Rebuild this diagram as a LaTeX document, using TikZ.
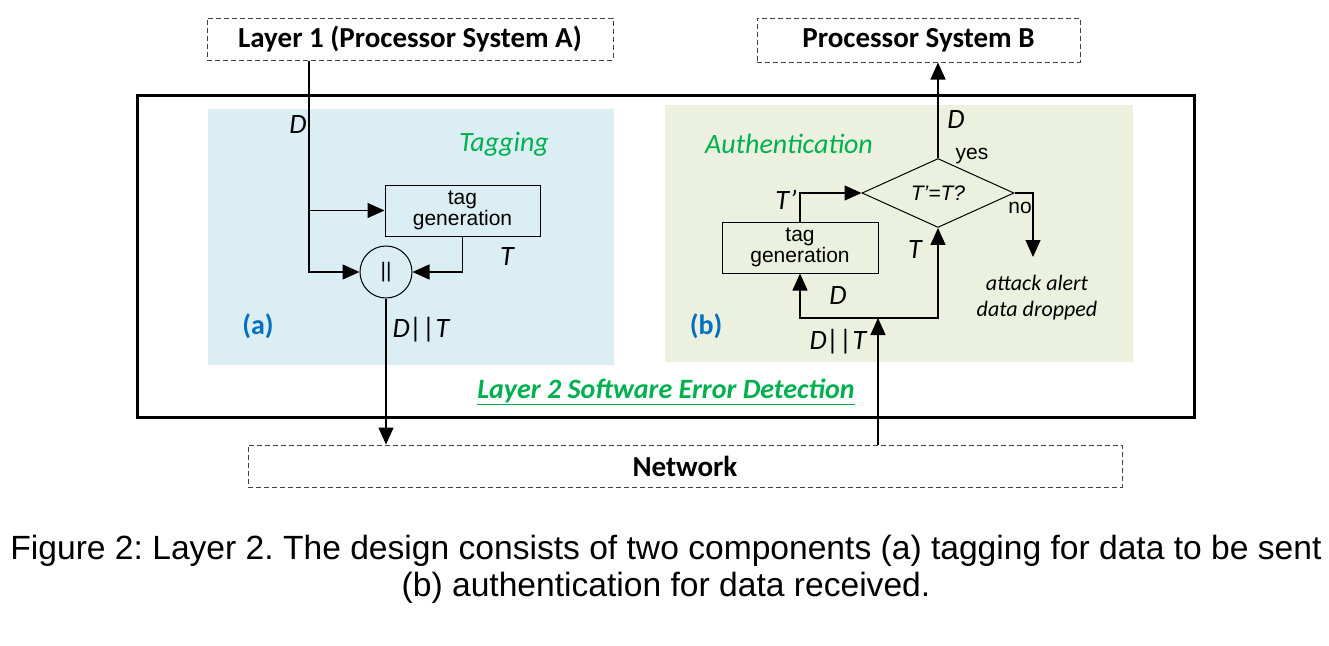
\documentclass[tikz,border=0pt]{standalone}
\usepackage{fontspec}
\setmainfont{Carlito}
\newfontfamily\arial{Liberation Sans}
\usetikzlibrary{arrows.meta,shapes.geometric}
\definecolor{aquafill}{HTML}{DAEEF3}
\definecolor{olivefill}{HTML}{EBF1DE}
\definecolor{tgreen}{HTML}{00B050}
\definecolor{tblue}{HTML}{0070C0}
\begin{document}
\frenchspacing
\begin{tikzpicture}[x=1pt,y=-1pt,
  dbox/.style={draw=black!75,line width=1pt,dash pattern=on 5pt off 3pt,inner sep=0pt},
  procbox/.style={draw,line width=1pt,inner sep=0pt,align=center,font=\arial\fontsize{21}{19}\selectfont},
  arr/.style={line width=1.2pt,-{Triangle[length=17pt,width=15pt]}},
  lab/.style={inner sep=0pt,font=\fontsize{28}{30}\selectfont\itshape},
  small/.style={inner sep=0pt,font=\arial\fontsize{21}{22}\selectfont},
  title/.style={font=\fontsize{29}{30}\selectfont\bfseries}]
\useasboundingbox (0,0) rectangle (1329,645);
\fill[white] (0,0) rectangle (1329,645);
% backgrounds
\fill[aquafill] (208,109) rectangle (614,365);
\fill[olivefill] (665,105) rectangle (1133,362);
\draw[line width=3pt] (137,95) rectangle (1194,417);
% boxes
\node[dbox,title,minimum width=406,minimum height=42] (L1) at (410,39) {Layer 1 (Processor System A)};
\node[dbox,title,minimum width=323,minimum height=44] (PB) at (918.5,40) {Processor System B};
\node[dbox,title,minimum width=874,minimum height=42] (net) at (685,466) {Network};
\node[procbox,minimum width=155,minimum height=51] (tagA) at (462.5,210.5) {tag\\generation};
\node[draw,line width=1pt,circle,minimum size=52,inner sep=0pt,font=\arial\fontsize{21}{22}\selectfont] (circ) at (386,272) {||};
\node[procbox,minimum width=156,minimum height=51] (tagB) at (800,247.5) {tag\\generation};
\node[draw,line width=1pt,diamond,minimum width=152,minimum height=50,inner sep=0pt,font=\arial\itshape\fontsize{21}{22}\selectfont] (dia) at (938,193) {T’=T?};
% connectors (a)
\draw[arr] (L1.south -| 309,0) |- (circ.west);
\draw[arr] (tagA.west -| 309,0) -- (tagA.west);
\draw[arr] (tagA.south) |- (circ.east);
\draw[arr] (circ.south) -- (circ.south |- net.north);
% connectors (b)
\coordinate (j) at (878,318);
\coordinate (alert) at (1033,257);
\draw[arr] (dia.north) -- (dia.north |- PB.south);
\draw[arr] (dia.east) -| (alert);
\draw[arr] (tagB.north) |- (dia.west);
\draw[arr] (net.north -| j) -- (j);
\draw[arr] (j) -| (tagB.south);
\draw[arr] (j) -| (dia.south);
% labels (a)
\node[lab] (lD1) at (298,125) {D};
\node[lab] (lT1) at (507,257) {T};
\node[lab] (lDT1) at (421,330) {D||T};
\node[inner sep=0pt,font=\fontsize{28}{30}\selectfont\bfseries,text=tblue] (la) at (258,326) {(a)};
\node[lab,text=tgreen] (ltag) at (504,144) {Tagging};
% labels (b)
\node[lab,text=tgreen] (lauth) at (789,144) {Authentication};
\node[inner sep=0pt,font=\fontsize{28}{30}\selectfont\bfseries,text=tblue] (lb) at (706,326) {(b)};
\node[lab] (lD2) at (956,120) {D};
\node[small] (lyes) at (972,156) {yes};
\node[small] (lno) at (1020,208) {no};
\node[lab] (lTp) at (786,200) {T’};
\node[lab] (lT2) at (915,250) {T};
\node[lab] (lD3) at (838,296) {D};
\node[lab] (lDT2) at (838,342) {D||T};
\node[inner sep=0pt,align=center,font=\fontsize{22}{26}\selectfont\itshape] (lalert) at (1037,298) {attack alert\\data dropped};
\node[inner sep=0pt,font=\fontsize{28}{30}\selectfont\bfseries\itshape,text=tgreen] (l2) at (666,392) {\underline{Layer 2 Software Error Detection}};
% caption
\node[inner sep=0pt,font=\arial\fontsize{33.6}{36}\selectfont] (cap1) at (666,551) {Figure 2: Layer 2. The design consists of two components (a) tagging for data to be sent};
\node[inner sep=0pt,font=\arial\fontsize{33.6}{36}\selectfont] (cap2) at (666,588) {(b) authentication for data received.};
\end{tikzpicture}
\end{document}
